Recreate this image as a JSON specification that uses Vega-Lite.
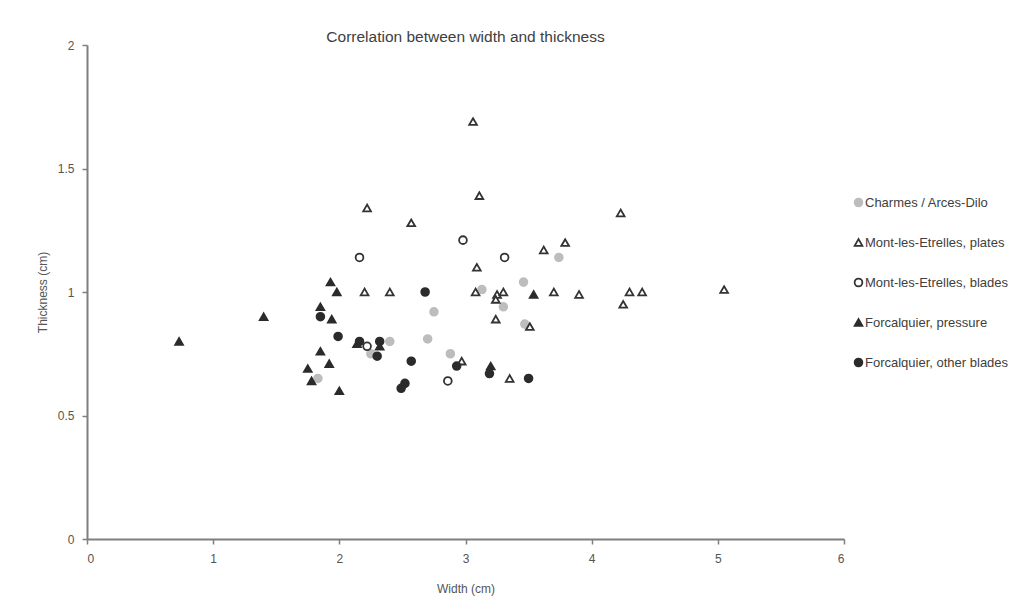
{
  "$schema": "https://vega.github.io/schema/vega-lite/v6.json",
  "autosize": {"type": "none"},
  "width": 757,
  "height": 494,
  "padding": {"left": 87, "top": 45, "right": 187, "bottom": 63},
  "background": "white",
  "config": {
    "font": "Liberation Sans",
    "view": {"stroke": null},
    "axis": {
      "grid": false,
      "domainColor": "#7f7f7f",
      "domainWidth": 2,
      "tickColor": "#7f7f7f",
      "tickWidth": 1.5,
      "tickSize": 5,
      "labelColor": "#555555",
      "labelFontSize": 12,
      "titleColor": "#555555",
      "titleFontSize": 12,
      "titleFontWeight": "normal"
    }
  },
  "title": {
    "text": "Correlation between width and thickness",
    "fontSize": 15.5,
    "fontWeight": "normal",
    "color": "#404040",
    "anchor": "middle",
    "frame": "group",
    "baseline": "alphabetic",
    "offset": -18
  },
  "data": {
    "values": [
      {"series": "Charmes / Arces-Dilo", "w": 3.74, "t": 1.14},
      {"series": "Charmes / Arces-Dilo", "w": 3.46, "t": 1.04},
      {"series": "Charmes / Arces-Dilo", "w": 3.13, "t": 1.01},
      {"series": "Charmes / Arces-Dilo", "w": 2.75, "t": 0.92},
      {"series": "Charmes / Arces-Dilo", "w": 3.30, "t": 0.94},
      {"series": "Charmes / Arces-Dilo", "w": 3.47, "t": 0.87},
      {"series": "Charmes / Arces-Dilo", "w": 2.40, "t": 0.80},
      {"series": "Charmes / Arces-Dilo", "w": 2.70, "t": 0.81},
      {"series": "Charmes / Arces-Dilo", "w": 2.25, "t": 0.75},
      {"series": "Charmes / Arces-Dilo", "w": 2.88, "t": 0.75},
      {"series": "Charmes / Arces-Dilo", "w": 1.83, "t": 0.65},
      {"series": "Mont-les-Etrelles, plates", "w": 3.06, "t": 1.69},
      {"series": "Mont-les-Etrelles, plates", "w": 3.11, "t": 1.39},
      {"series": "Mont-les-Etrelles, plates", "w": 2.22, "t": 1.34},
      {"series": "Mont-les-Etrelles, plates", "w": 2.57, "t": 1.28},
      {"series": "Mont-les-Etrelles, plates", "w": 4.23, "t": 1.32},
      {"series": "Mont-les-Etrelles, plates", "w": 3.62, "t": 1.17},
      {"series": "Mont-les-Etrelles, plates", "w": 3.79, "t": 1.20},
      {"series": "Mont-les-Etrelles, plates", "w": 3.09, "t": 1.10},
      {"series": "Mont-les-Etrelles, plates", "w": 2.20, "t": 1.00},
      {"series": "Mont-les-Etrelles, plates", "w": 2.40, "t": 1.00},
      {"series": "Mont-les-Etrelles, plates", "w": 3.08, "t": 1.00},
      {"series": "Mont-les-Etrelles, plates", "w": 3.25, "t": 0.99},
      {"series": "Mont-les-Etrelles, plates", "w": 3.30, "t": 1.00},
      {"series": "Mont-les-Etrelles, plates", "w": 3.24, "t": 0.97},
      {"series": "Mont-les-Etrelles, plates", "w": 3.70, "t": 1.00},
      {"series": "Mont-les-Etrelles, plates", "w": 3.90, "t": 0.99},
      {"series": "Mont-les-Etrelles, plates", "w": 4.30, "t": 1.00},
      {"series": "Mont-les-Etrelles, plates", "w": 4.40, "t": 1.00},
      {"series": "Mont-les-Etrelles, plates", "w": 4.25, "t": 0.95},
      {"series": "Mont-les-Etrelles, plates", "w": 5.05, "t": 1.01},
      {"series": "Mont-les-Etrelles, plates", "w": 3.24, "t": 0.89},
      {"series": "Mont-les-Etrelles, plates", "w": 3.51, "t": 0.86},
      {"series": "Mont-les-Etrelles, plates", "w": 2.97, "t": 0.72},
      {"series": "Mont-les-Etrelles, plates", "w": 3.35, "t": 0.65},
      {"series": "Mont-les-Etrelles, blades", "w": 2.16, "t": 1.14},
      {"series": "Mont-les-Etrelles, blades", "w": 2.98, "t": 1.21},
      {"series": "Mont-les-Etrelles, blades", "w": 3.31, "t": 1.14},
      {"series": "Mont-les-Etrelles, blades", "w": 2.22, "t": 0.78},
      {"series": "Mont-les-Etrelles, blades", "w": 2.86, "t": 0.64},
      {"series": "Forcalquier, pressure", "w": 0.73, "t": 0.80},
      {"series": "Forcalquier, pressure", "w": 1.40, "t": 0.90},
      {"series": "Forcalquier, pressure", "w": 1.93, "t": 1.04},
      {"series": "Forcalquier, pressure", "w": 1.98, "t": 1.00},
      {"series": "Forcalquier, pressure", "w": 1.85, "t": 0.94},
      {"series": "Forcalquier, pressure", "w": 1.94, "t": 0.89},
      {"series": "Forcalquier, pressure", "w": 2.14, "t": 0.79},
      {"series": "Forcalquier, pressure", "w": 2.32, "t": 0.78},
      {"series": "Forcalquier, pressure", "w": 1.85, "t": 0.76},
      {"series": "Forcalquier, pressure", "w": 1.92, "t": 0.71},
      {"series": "Forcalquier, pressure", "w": 1.75, "t": 0.69},
      {"series": "Forcalquier, pressure", "w": 1.78, "t": 0.64},
      {"series": "Forcalquier, pressure", "w": 2.00, "t": 0.60},
      {"series": "Forcalquier, pressure", "w": 3.54, "t": 0.99},
      {"series": "Forcalquier, pressure", "w": 3.20, "t": 0.70},
      {"series": "Forcalquier, other blades", "w": 1.85, "t": 0.90},
      {"series": "Forcalquier, other blades", "w": 1.99, "t": 0.82},
      {"series": "Forcalquier, other blades", "w": 2.16, "t": 0.80},
      {"series": "Forcalquier, other blades", "w": 2.32, "t": 0.80},
      {"series": "Forcalquier, other blades", "w": 2.30, "t": 0.74},
      {"series": "Forcalquier, other blades", "w": 2.68, "t": 1.00},
      {"series": "Forcalquier, other blades", "w": 2.57, "t": 0.72},
      {"series": "Forcalquier, other blades", "w": 2.93, "t": 0.70},
      {"series": "Forcalquier, other blades", "w": 3.19, "t": 0.67},
      {"series": "Forcalquier, other blades", "w": 3.50, "t": 0.65},
      {"series": "Forcalquier, other blades", "w": 2.52, "t": 0.63},
      {"series": "Forcalquier, other blades", "w": 2.49, "t": 0.61}
    ]
  },
  "mark": {"type": "point", "filled": true, "size": 60, "strokeWidth": 1.8, "opacity": 1},
  "encoding": {
    "x": {
      "field": "w", "type": "quantitative",
      "scale": {"domain": [0, 6], "nice": false, "zero": true},
      "axis": {"title": "Width (cm)", "values": [0, 1, 2, 3, 4, 5, 6], "labelPadding": 9, "titlePadding": 19}
    },
    "y": {
      "field": "t", "type": "quantitative",
      "scale": {"domain": [0, 2], "nice": false},
      "axis": {"title": "Thickness (cm)", "values": [0, 0.5, 1, 1.5, 2], "labelPadding": 8, "titlePadding": 8, "format": "~g"}
    },
    "shape": {
      "field": "series", "type": "nominal",
      "scale": {
        "domain": ["Charmes / Arces-Dilo", "Mont-les-Etrelles, plates", "Mont-les-Etrelles, blades", "Forcalquier, pressure", "Forcalquier, other blades"],
        "range": ["circle", "triangle-up", "circle", "triangle-up", "circle"]
      },
      "legend": {
        "title": null, "orient": "none", "legendX": 765, "legendY": 151,
        "rowPadding": 25, "labelFontSize": 13, "labelColor": "#404040",
        "labelOffset": 0, "symbolSize": 60, "symbolStrokeWidth": 1.8
      }
    },
    "fill": {
      "field": "series", "type": "nominal",
      "scale": {
        "domain": ["Charmes / Arces-Dilo", "Mont-les-Etrelles, plates", "Mont-les-Etrelles, blades", "Forcalquier, pressure", "Forcalquier, other blades"],
        "range": ["#bdbdbd", "#ffffff", "#ffffff", "#2b2b2b", "#2b2b2b"]
      },
      "legend": null
    },
    "stroke": {
      "field": "series", "type": "nominal",
      "scale": {
        "domain": ["Charmes / Arces-Dilo", "Mont-les-Etrelles, plates", "Mont-les-Etrelles, blades", "Forcalquier, pressure", "Forcalquier, other blades"],
        "range": ["#bdbdbd", "#333333", "#333333", "#2b2b2b", "#2b2b2b"]
      },
      "legend": null
    }
  }
}
